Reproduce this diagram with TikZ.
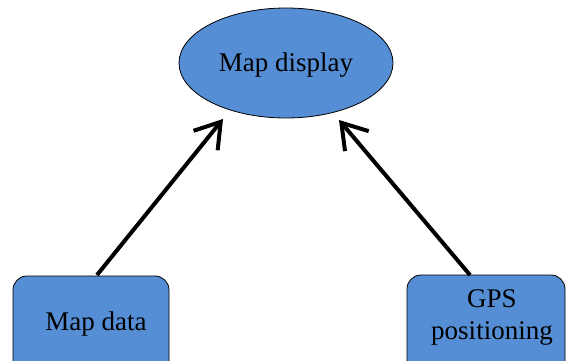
\documentclass[tikz,border=0pt]{standalone}
\usepackage{fontspec}
\setmainfont{Liberation Serif}
\usetikzlibrary{arrows.meta,shapes.geometric}
\definecolor{fillblue}{HTML}{558ED5}
\begin{document}
\begin{tikzpicture}[x=1pt,y=-1pt,
  boxshape/.style={draw=black, line width=0.8pt, fill=fillblue, rounded corners=14pt, minimum height=100pt, inner sep=0pt},
  oval/.style={ellipse, draw=black, line width=0.8pt, fill=fillblue, minimum width=214pt, minimum height=110pt, inner sep=0pt},
  lbl/.style={font=\fontsize{27}{32}\selectfont, align=center, inner sep=0pt},
  arr/.style={line width=4pt, -{Straight Barb[length=24pt, width=31pt]}}
]
\useasboundingbox (0,0) rectangle (566,361);
\clip (0,0) rectangle (566,361);

\node[oval] (display) at (286,63) {};
\node[lbl, anchor=base] (displaytext) at (286,72) {Map display};

\node[boxshape, minimum width=156pt] (mapdata) at (91,326) {};
\node[lbl, anchor=base] (mapdatatext) at (96,330) {Map data};

\node[boxshape, minimum width=158pt] (gps) at (486,325) {};
\node[lbl, anchor=base] (gpstext) at (492,339) {GPS\\positioning};

\coordinate (s1) at (97,275);
\coordinate (t1) at (223,119);
\coordinate (s2) at (470,275);
\coordinate (t2) at (339,120);

\draw[arr] (s1) -- (t1);
\draw[arr] (s2) -- (t2);
\end{tikzpicture}
\end{document}
